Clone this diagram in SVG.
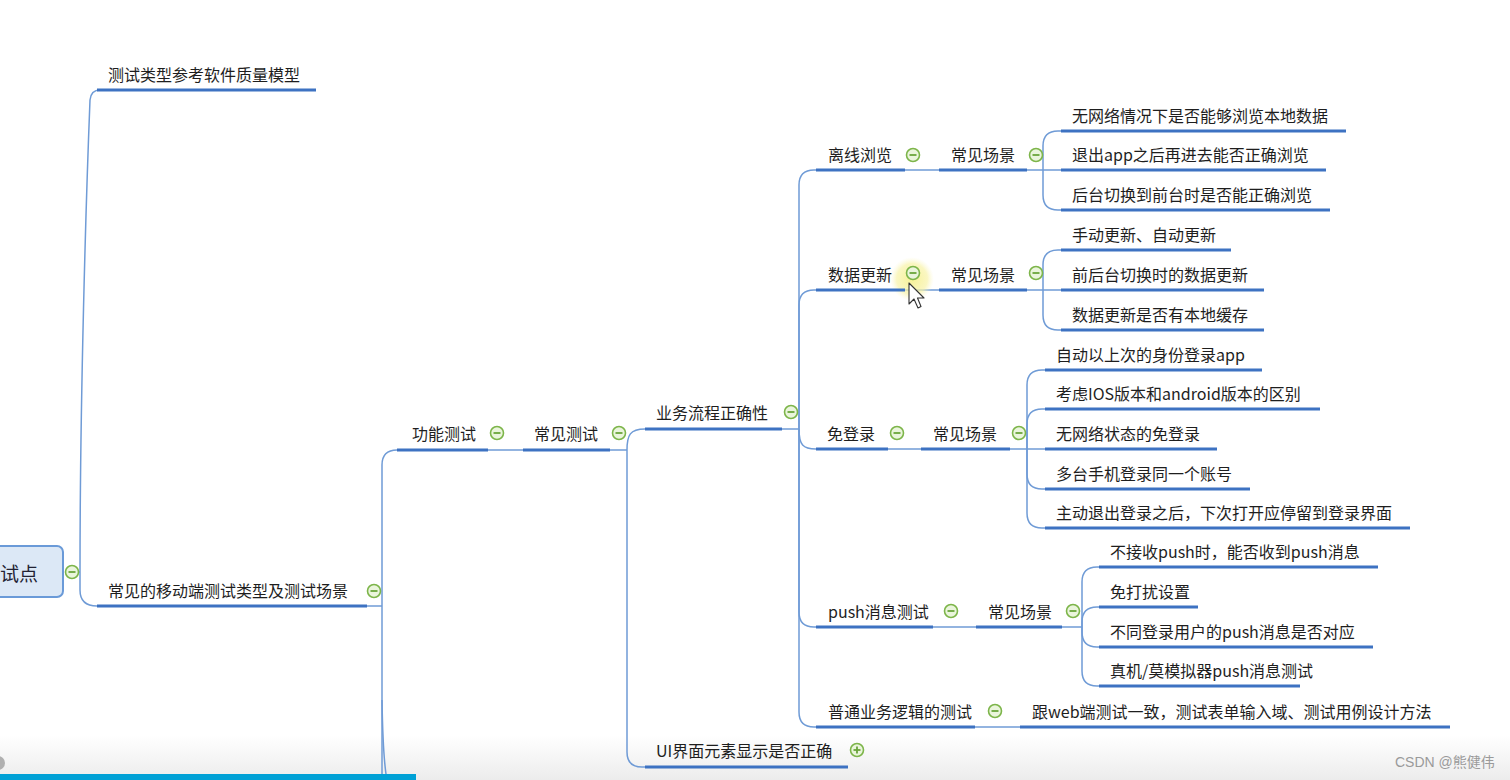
<svg xmlns="http://www.w3.org/2000/svg" width="1510" height="780" viewBox="0 0 1510 780">
<defs>
<linearGradient id="bottomFade" x1="0" y1="0" x2="0" y2="1">
<stop offset="0" stop-color="#ffffff"/>
<stop offset="1" stop-color="#ececec"/>
</linearGradient>
<radialGradient id="hl" cx="0.5" cy="0.5" r="0.5">
<stop offset="0" stop-color="#f6f08a" stop-opacity="0.9"/>
<stop offset="0.7" stop-color="#f8f3a8" stop-opacity="0.7"/>
<stop offset="1" stop-color="#fbf8d0" stop-opacity="0"/>
</radialGradient>
<g id="minus"><circle r="6.5" fill="#eaf5dc" stroke="#7db54a" stroke-width="1.6"/><line x1="-3.5" y1="0" x2="3.5" y2="0" stroke="#6aa53a" stroke-width="1.8"/></g>
<g id="plus"><circle r="6.5" fill="#eaf5dc" stroke="#7db54a" stroke-width="1.6"/><line x1="-3.5" y1="0" x2="3.5" y2="0" stroke="#6aa53a" stroke-width="1.8"/><line x1="0" y1="-3.5" x2="0" y2="3.5" stroke="#6aa53a" stroke-width="1.8"/></g>
</defs>
<style>
.t{font-family:"Microsoft YaHei","Noto Sans CJK SC","Noto Sans",sans-serif;font-size:16px;fill:#1e1e1e;}
.u{stroke:#3d72c2;stroke-width:3;fill:none;stroke-linecap:butt;}
.c{stroke:#6f9bd6;stroke-width:1.5;fill:none;}
.wm{font-family:"Liberation Sans","Noto Sans CJK SC",sans-serif;font-size:14px;fill:#9a9a9a;}
</style>
<rect x="0" y="0" width="1510" height="780" fill="#ffffff"/>
<rect x="0" y="735" width="1510" height="45" fill="url(#bottomFade)"/>

<g id="connectors">
<path class="c" d="M78,572 H80"/>
<path class="c" d="M80,572 C80,400 86,200 90,100 Q91,90 100,90"/>
<path class="c" d="M80,572 V590 Q80,606 97,606"/>
<path class="c" d="M367,606 H382"/>
<path class="c" d="M382,606 V465 Q382,450 397,450"/>
<path class="c" d="M382,606 V780"/>
<path class="c" d="M382,700 Q383,760 387,780"/>
<path class="c" d="M488,450 H523"/>
<path class="c" d="M610,450 H627"/>
<path class="c" d="M627,450 C627,435 630,429 645,429"/>
<path class="c" d="M627,450 V752 Q627,767 642,767 H645"/>
<path class="c" d="M782,429 H799"/>
<path class="c" d="M799,429 V185 Q799,170 814,170 H816"/>
<path class="c" d="M799,429 V305 Q799,290 814,290 H816"/>
<path class="c" d="M799,429 C799,445 803,449 816,449"/>
<path class="c" d="M799,429 V612 Q799,627 814,627 H816"/>
<path class="c" d="M799,429 V712 Q799,727 814,727 H816"/>
<path class="c" d="M905,170 H939"/>
<path class="c" d="M1027,170 H1043"/>
<path class="c" d="M1043,170 V146 Q1043,131 1058,131 H1061"/>
<path class="c" d="M1043,170 H1061"/>
<path class="c" d="M1043,170 V195 Q1043,210 1058,210 H1061"/>
<path class="c" d="M905,290 H939"/>
<path class="c" d="M1027,290 H1043"/>
<path class="c" d="M1043,290 V265 Q1043,250 1058,250 H1061"/>
<path class="c" d="M1043,290 H1061"/>
<path class="c" d="M1043,290 V315 Q1043,330 1058,330 H1061"/>
<path class="c" d="M888,449 H921"/>
<path class="c" d="M1010,449 H1027"/>
<path class="c" d="M1027,449 V385 Q1027,370 1042,370 H1045"/>
<path class="c" d="M1027,449 V424 Q1027,409 1042,409 H1045"/>
<path class="c" d="M1027,449 H1045"/>
<path class="c" d="M1027,449 V474 Q1027,489 1042,489 H1045"/>
<path class="c" d="M1027,449 V513 Q1027,528 1042,528 H1045"/>
<path class="c" d="M933,627 H976"/>
<path class="c" d="M1062,627 H1082"/>
<path class="c" d="M1082,627 V582 Q1082,567 1097,567 H1099"/>
<path class="c" d="M1082,627 V622 Q1082,607 1097,607 H1099"/>
<path class="c" d="M1082,627 V632 Q1082,647 1097,647 H1099"/>
<path class="c" d="M1082,627 V671 Q1082,686 1097,686 H1099"/>
<path class="c" d="M975,727 H1020"/>
</g>

<g id="root">
<rect x="-12" y="546" width="75" height="51" rx="6" fill="#dce8f6" stroke="#6a9ad8" stroke-width="2"/>
<text x="0" y="581" style="font-family:'Microsoft YaHei','Noto Sans CJK SC',sans-serif;font-size:19px;fill:#223;">试点</text>
<use href="#minus" x="72" y="572"/>
</g>

<g id="n-quality"><path class="u" d="M97,90 H316"/><text class="t" x="108" y="81">测试类型参考软件质量模型</text></g>
<g id="n-mobile"><path class="u" d="M97,606 H367"/><text class="t" x="108" y="597">常见的移动端测试类型及测试场景</text><use href="#minus" x="374" y="591"/></g>
<g id="n-func"><path class="u" d="M397,450 H488"/><text class="t" x="412" y="440">功能测试</text><use href="#minus" x="497" y="433"/></g>
<g id="n-common"><path class="u" d="M523,450 H610"/><text class="t" x="534" y="440">常见测试</text><use href="#minus" x="619" y="433"/></g>
<g id="n-flow"><path class="u" d="M645,429 H782"/><text class="t" x="656" y="419">业务流程正确性</text><use href="#minus" x="791" y="412"/></g>
<g id="n-ui"><path class="u" d="M645,767 H848"/><text class="t" x="656" y="757">UI界面元素显示是否正确</text><use href="#plus" x="857" y="750"/></g>

<g id="n-offline"><path class="u" d="M816,170 H905"/><text class="t" x="828" y="161">离线浏览</text><use href="#minus" x="913" y="155"/></g>
<g id="n-offline-s"><path class="u" d="M939,170 H1027"/><text class="t" x="951" y="161">常见场景</text><use href="#minus" x="1036" y="155"/></g>
<g id="n-o1"><path class="u" d="M1061,131 H1346"/><text class="t" x="1072" y="122">无网络情况下是否能够浏览本地数据</text></g>
<g id="n-o2"><path class="u" d="M1061,170 H1326"/><text class="t" x="1072" y="161">退出app之后再进去能否正确浏览</text></g>
<g id="n-o3"><path class="u" d="M1061,210 H1330"/><text class="t" x="1072" y="201">后台切换到前台时是否能正确浏览</text></g>

<g id="highlight"><circle cx="912" cy="279" r="22" fill="url(#hl)"/></g>
<g id="n-update"><path class="u" d="M816,290 H905"/><text class="t" x="828" y="281">数据更新</text><use href="#minus" x="913" y="273"/></g>
<g id="n-update-s"><path class="u" d="M939,290 H1027"/><text class="t" x="951" y="281">常见场景</text><use href="#minus" x="1036" y="273"/></g>
<g id="n-u1"><path class="u" d="M1061,250 H1231"/><text class="t" x="1072" y="241">手动更新、自动更新</text></g>
<g id="n-u2"><path class="u" d="M1061,290 H1264"/><text class="t" x="1072" y="281">前后台切换时的数据更新</text></g>
<g id="n-u3"><path class="u" d="M1061,330 H1264"/><text class="t" x="1072" y="321">数据更新是否有本地缓存</text></g>
<g id="cursor"><path d="M909,283 L909,304 L914,299 L918,308 L921,306.5 L917.5,298 L924,298 Z" fill="#ffffff" stroke="#333" stroke-width="1.1" stroke-linejoin="round"/></g>

<g id="n-login"><path class="u" d="M816,449 H888"/><text class="t" x="827" y="440">免登录</text><use href="#minus" x="897" y="433"/></g>
<g id="n-login-s"><path class="u" d="M921,449 H1010"/><text class="t" x="933" y="440">常见场景</text><use href="#minus" x="1019" y="433"/></g>
<g id="n-l1"><path class="u" d="M1045,370 H1262"/><text class="t" x="1056" y="361">自动以上次的身份登录app</text></g>
<g id="n-l2"><path class="u" d="M1045,409 H1320"/><text class="t" x="1056" y="400">考虑IOS版本和android版本的区别</text></g>
<g id="n-l3"><path class="u" d="M1045,449 H1217"/><text class="t" x="1056" y="440">无网络状态的免登录</text></g>
<g id="n-l4"><path class="u" d="M1045,489 H1250"/><text class="t" x="1056" y="480">多台手机登录同一个账号</text></g>
<g id="n-l5"><path class="u" d="M1045,528 H1410"/><text class="t" x="1056" y="519">主动退出登录之后，下次打开应停留到登录界面</text></g>

<g id="n-push"><path class="u" d="M816,627 H933"/><text class="t" x="828" y="618">push消息测试</text><use href="#minus" x="951" y="611"/></g>
<g id="n-push-s"><path class="u" d="M976,627 H1062"/><text class="t" x="988" y="618">常见场景</text><use href="#minus" x="1073" y="611"/></g>
<g id="n-p1"><path class="u" d="M1099,567 H1378"/><text class="t" x="1110" y="558">不接收push时，能否收到push消息</text></g>
<g id="n-p2"><path class="u" d="M1099,607 H1198"/><text class="t" x="1110" y="598">免打扰设置</text></g>
<g id="n-p3"><path class="u" d="M1099,647 H1373"/><text class="t" x="1110" y="638">不同登录用户的push消息是否对应</text></g>
<g id="n-p4"><path class="u" d="M1099,686 H1300"/><text class="t" x="1110" y="677">真机/莫模拟器push消息测试</text></g>

<g id="n-logic"><path class="u" d="M816,727 H975"/><text class="t" x="828" y="718">普通业务逻辑的测试</text><use href="#minus" x="995" y="711"/></g>
<g id="n-logic-1"><path class="u" d="M1020,727 H1450"/><text class="t" x="1032" y="718">跟web端测试一致，测试表单输入域、测试用例设计方法</text></g>

<circle cx="-2" cy="763" r="7" fill="#b0b0b0"/>
<rect x="0" y="774" width="416" height="6" fill="#00a1d6"/>
<text class="wm" x="1395" y="767">CSDN @熊健伟</text>
</svg>
